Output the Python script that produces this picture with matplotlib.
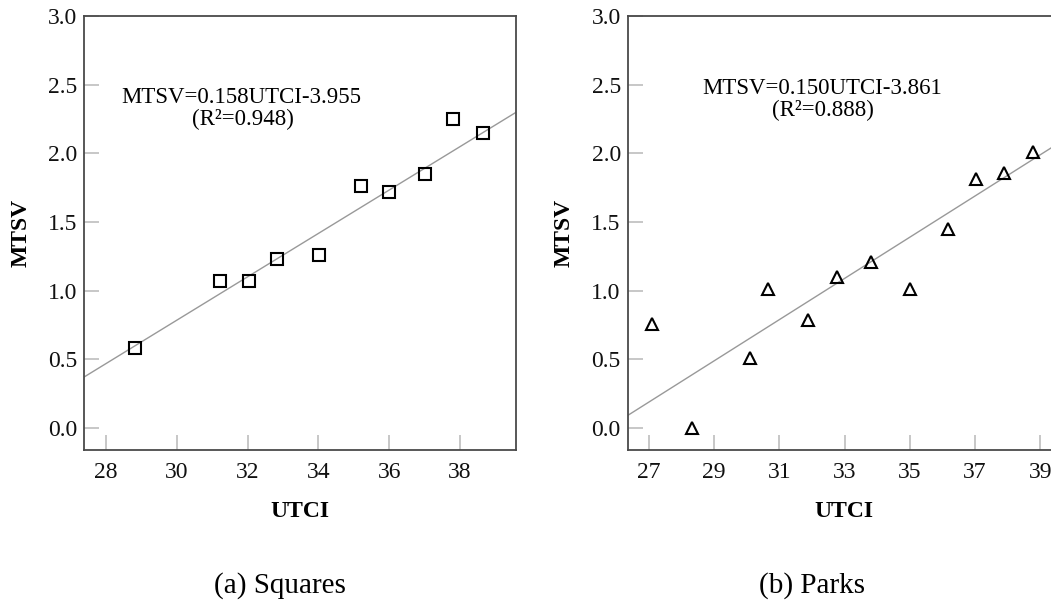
import matplotlib
matplotlib.use("Agg")
import matplotlib.pyplot as plt
import numpy as np

plt.rcParams['font.family'] = ['Liberation Serif', 'DejaVu Serif']

# (a) Squares
squares_utci = [28.82, 31.22, 32.04, 32.82, 34.03, 35.20, 36.00, 37.00, 37.81, 38.66]
squares_mtsv = [0.58, 1.07, 1.07, 1.23, 1.26, 1.76, 1.72, 1.85, 2.25, 2.15]
squares_fit = (0.158, -3.955)
squares_r2 = 0.948

# (b) Parks
parks_utci = [27.10, 28.31, 30.10, 30.65, 31.88, 32.78, 33.82, 35.00, 36.16, 37.04, 37.89, 38.77]
parks_mtsv = [0.76, 0.00, 0.51, 1.01, 0.79, 1.10, 1.21, 1.01, 1.45, 1.81, 1.86, 2.01]
parks_fit = (0.150, -3.861)
parks_r2 = 0.888

W, H = 1051, 600
fig = plt.figure(figsize=(W / 100, H / 100), dpi=100)

spine_col = '#4a4a4a'
tick_col = '#bdbdbd'
line_col = '#999999'


def panel(rect, x, y, fit, r2, marker, xlim, xticks, eq_xy, title, title_x):
    ax = fig.add_axes(rect)
    a, b = fit
    xs = np.array(xlim)
    ax.plot(xs, a * xs + b, color=line_col, lw=1.0, zorder=1)
    ax.plot(x, y, linestyle='none', marker=marker, markersize=9,
            markerfacecolor='none', markeredgecolor='black', markeredgewidth=1.5, zorder=2)
    ax.set_xlim(xlim)
    ax.set_ylim(-0.16, 3.0)
    ax.set_xticks(xticks)
    ax.set_yticks([0.0, 0.5, 1.0, 1.5, 2.0, 2.5, 3.0])
    ax.set_yticklabels(['%.1f' % v for v in ax.get_yticks()])
    ax.tick_params(direction='in', length=11, width=1.2, color=tick_col,
                   labelsize=17, labelcolor='#111111')
    ax.tick_params(axis='y', pad=5)
    ax.tick_params(axis='x', pad=9)
    for s in ax.spines.values():
        s.set_color(spine_col)
        s.set_linewidth(1.3)
    ax.set_xlabel('UTCI', fontsize=17, fontweight='bold')
    ax.set_ylabel('MTSV', fontsize=17, fontweight='bold')
    ax.xaxis.set_label_coords(0.5, -0.118)
    ax.yaxis.set_label_coords(-0.122, 0.5)
    ax.text(eq_xy[0], eq_xy[1], 'MTSV=%.3fUTCI%.3f' % (a, b), fontsize=16.5,
            ha='center', va='center')
    ax.text(eq_xy[0] + 0.05, eq_xy[1] - 0.16, '(R\u00b2=%.3f)' % r2, fontsize=16.5,
            ha='center', va='center')
    fig.text(title_x / W, 1 - 586 / H, title, fontsize=21, ha='center', va='center')
    return ax


panel([84 / W, 150 / H, 432 / W, 434 / H], squares_utci, squares_mtsv, squares_fit, squares_r2,
      's', (27.38, 39.58), [28, 30, 32, 34, 36, 38], (31.83, 2.41), '(a) Squares', 280)
panel([627.7 / W, 150 / H, 432 / W, 434 / H], parks_utci, parks_mtsv, parks_fit, parks_r2,
      '^', (26.35, 39.6), [27, 29, 31, 33, 35, 37, 39], (32.3, 2.47), '(b) Parks', 812)

fig.savefig('out.png', dpi=100)
